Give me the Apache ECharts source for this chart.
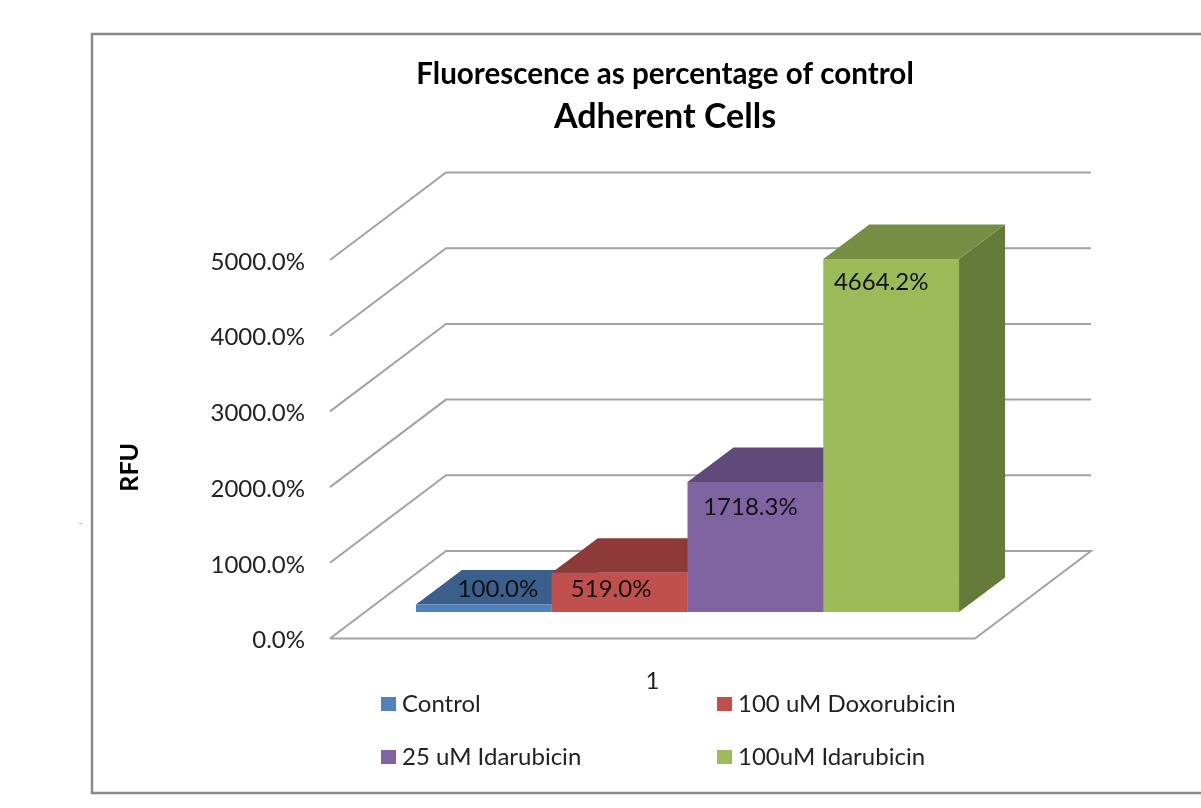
<!DOCTYPE html>
<html>
<head>
<meta charset="utf-8">
<title>Adherent Cells</title>
<script src="https://cdn.jsdelivr.net/npm/echarts@6/dist/echarts.min.js"></script>
<style>
  html, body { margin: 0; padding: 0; background: #fff; }
  #chart { width: 1201px; height: 808px; }
</style>
</head>
<body>
<div id="chart"></div>
<script>
  // data
  const categories = ['1']
  const seriesNames = ['Control', '100 uM Doxorubicin', '25 uM Idarubicin', '100uM Idarubicin']
  const control = [100.0]
  const doxorubicin = [519.0]
  const idarubicin25 = [1718.3]
  const idarubicin100 = [4664.2]
  const yTicks = [0, 1000, 2000, 3000, 4000, 5000]

  // colours: front, top, side
  const faceColors = [
    ['#4f81bd', '#3a5f8c', '#2f4f75'],
    ['#c0504d', '#8e3a38', '#7a3230'],
    ['#8064a2', '#5f4a79', '#503e66'],
    ['#9bbb59', '#768f44', '#647a38']
  ]

  // fake 3d: pixel depth of the walls and of the bars
  const wallDepth = [116, -87.5]
  const barShift = [35, -26.5]
  const barDepth = [46, -34.5]
  const barShare = 0.2105
  const labelShift = [[14, -15], [-8.5, 17], [-5, 25], [-10, 23]]
  const wallColor = '#a3a3a3'
  const font = 'Lato'

  function wallItem(params, api) {
    const v = api.value(1)
    const p = api.coord([0, v])
    const left = params.coordSys.x
    const right = left + params.coordSys.width
    const y = p[1]
    const style = { stroke: wallColor, lineWidth: 2, fill: null }
    const back = y + wallDepth[1]
    const pts = [[left, y], [left + wallDepth[0], back], [right + wallDepth[0], back]]
    if (v === 0) pts.push([right, y], [left, y])
    return { type: 'polyline', shape: { points: pts }, style, silent: true }
  }

  function barItem(idx) {
    return function (params, api) {
      const v = api.value(1)
      const center = api.coord([0, 0])
      const band = api.size([1, 0])[0]
      const w = band * barShare
      const x0 = center[0] - 2 * w + idx * w + barShift[0]
      const x1 = x0 + w
      const base = center[1] + barShift[1]
      const top = api.coord([0, v])[1] + barShift[1]
      const dx = barDepth[0]
      const dy = barDepth[1]
      const c = faceColors[idx]
      return {
        type: 'group',
        children: [
          { type: 'polygon', shape: { points: [[x1, base], [x1 + dx, base + dy], [x1 + dx, top + dy], [x1, top]] }, style: { fill: c[2] } },
          { type: 'polygon', shape: { points: [[x0, top], [x0 + dx, top + dy], [x1 + dx, top + dy], [x1, top]] }, style: { fill: c[1] } },
          { type: 'rect', shape: { x: x0, y: top, width: w, height: base - top }, style: { fill: c[0] } },
          {
            type: 'text',
            z2: 10,
            style: {
              x: (x0 + x1) / 2 + labelShift[idx][0],
              y: top + labelShift[idx][1],
              text: v.toFixed(1) + '%',
              fill: '#111',
              font: '24px ' + font,
              align: 'center',
              verticalAlign: 'middle'
            }
          }
        ]
      }
    }
  }

  const seriesValues = [control, doxorubicin, idarubicin25, idarubicin100]

  const myChart = echarts.init(document.getElementById('chart'), null, { renderer: 'canvas' })

  const option = {
    backgroundColor: '#fff',
    animation: false,
    title: [
      {
        text: 'Fluorescence as percentage of control',
        left: 660, top: 54, textAlign: 'center',
        textStyle: { fontFamily: font, fontSize: 29.6, fontWeight: 'bold', color: '#000' }
      },
      {
        text: 'Adherent Cells',
        left: 660, top: 95, textAlign: 'center',
        textStyle: { fontFamily: font, fontSize: 34, fontWeight: 'bold', color: '#000' }
      }
    ],
    legend: [
      {
        orient: 'vertical', left: 381, top: 692, padding: 0, itemWidth: 15, itemHeight: 14, itemGap: 29,
        icon: 'rect',
        textStyle: { fontFamily: font, fontSize: 24, color: '#222', padding: [0, 0, 0, 1] },
        data: [seriesNames[0], seriesNames[2]]
      },
      {
        orient: 'vertical', left: 717, top: 692, padding: 0, itemWidth: 15, itemHeight: 14, itemGap: 29,
        icon: 'rect',
        textStyle: { fontFamily: font, fontSize: 24, color: '#222', padding: [0, 0, 0, 1] },
        data: [seriesNames[1], seriesNames[3]]
      }
    ],
    grid: { left: 330, top: 260, width: 645, height: 378.5 },
    xAxis: {
      type: 'category',
      data: categories,
      axisLine: { show: false },
      axisTick: { show: false },
      axisLabel: { margin: 31, fontFamily: font, fontSize: 24, color: '#222' }
    },
    yAxis: {
      type: 'value',
      min: 0,
      max: 5000,
      interval: 1000,
      name: 'RFU',
      nameLocation: 'middle',
      nameGap: 188,
      nameTextStyle: { fontFamily: font, fontSize: 25, fontWeight: 'bold', color: '#000', padding: [0, 36, 0, 0] },
      axisLine: { show: false },
      axisTick: { show: false },
      splitLine: { show: false },
      axisLabel: {
        margin: 25,
        verticalAlign: 'top',
        lineHeight: 4,
        fontFamily: font,
        fontSize: 24,
        color: '#222',
        formatter: (v) => v.toFixed(1) + '%'
      }
    },
    series: [
      {
        type: 'custom',
        name: 'walls',
        silent: true,
        renderItem: wallItem,
        data: yTicks.map((t) => [0, t]),
        z: 1
      }
    ].concat(seriesNames.map((name, i) => ({
      type: 'custom',
      name,
      renderItem: barItem(i),
      itemStyle: { color: faceColors[i][0] },
      encode: { x: 0, y: 1 },
      data: seriesValues[i].map((v, c) => [c, v]),
      z: 2 + i
    }))),
    graphic: [
      {
        type: 'polyline',
        silent: true,
        shape: { points: [[1203, 34], [92, 34], [92, 793], [1203, 793]] },
        style: { stroke: '#8a8a8a', lineWidth: 2.5, fill: null }
      },
      {
        type: 'line',
        silent: true,
        shape: { x1: 79, y1: 523.5, x2: 82, y2: 523.5 },
        style: { stroke: '#bbb', lineWidth: 1 }
      }
    ]
  }

  myChart.setOption(option)
</script>
</body>
</html>
